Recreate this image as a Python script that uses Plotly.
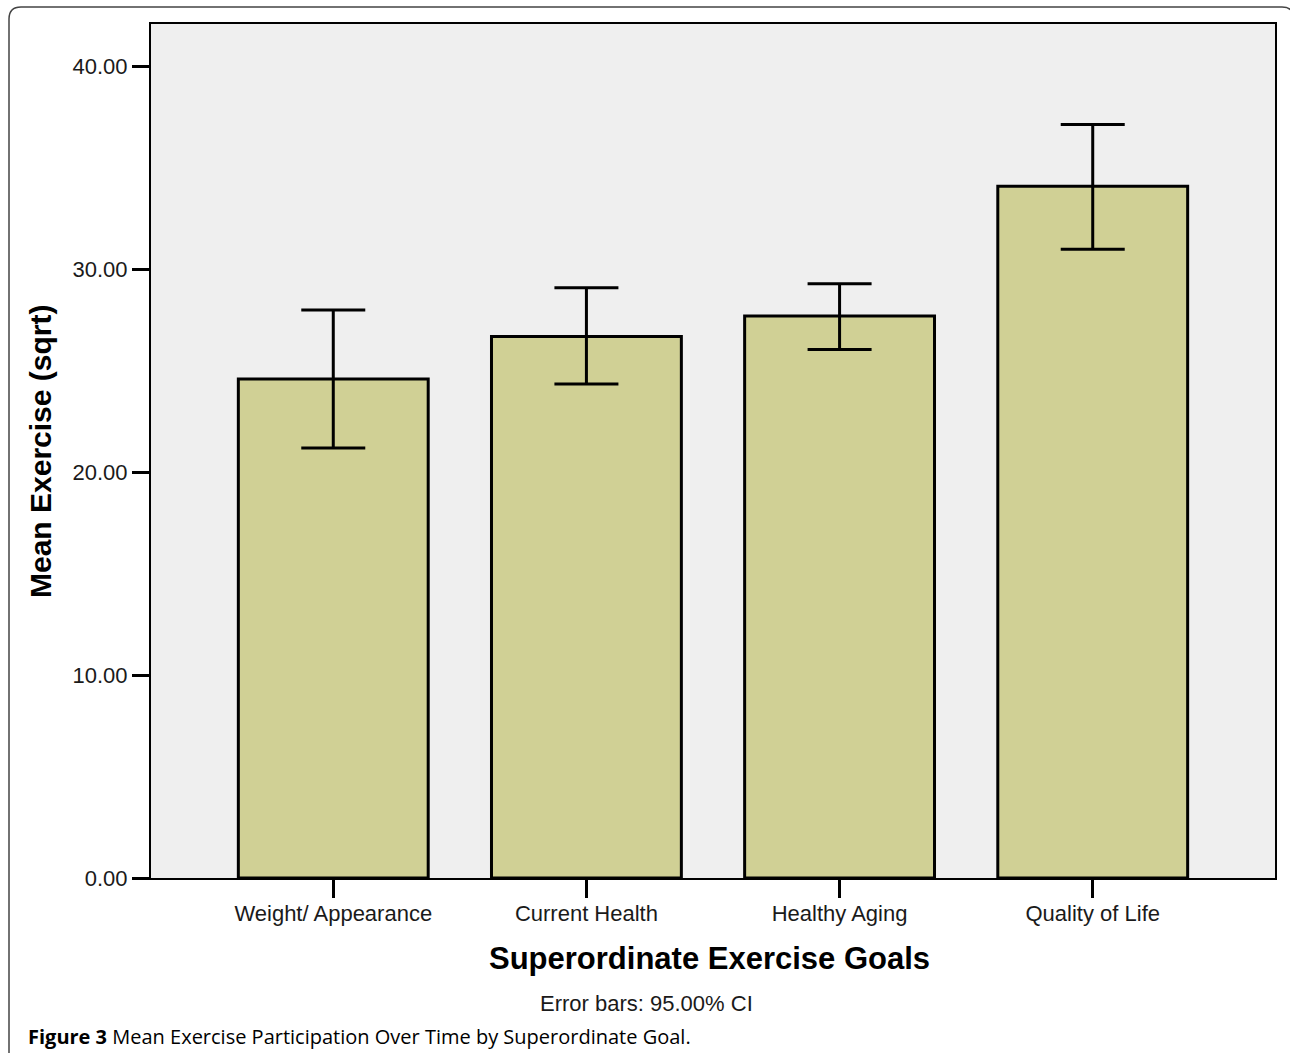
import plotly.graph_objects as go

# Data
categories = ["Weight/ Appearance", "Current Health", "Healthy Aging", "Quality of Life"]
means = [24.6, 26.7, 27.7, 34.1]
ci_upper = [28.0, 29.1, 29.3, 37.15]
ci_lower = [21.2, 24.35, 26.05, 31.0]
y_ticks = [0, 10, 20, 30, 40]
y_tick_labels = ["0.00", "10.00", "20.00", "30.00", "40.00"]

W, H = 1290, 1053
L, R, T, B = 151, 15, 24, 175
pw, ph = W - L - R, H - T - B

def px(x):
    return (x - L) / pw

def py(y):
    return (H - B - y) / ph

err_plus = [u - m for u, m in zip(ci_upper, means)]
err_minus = [m - l for m, l in zip(means, ci_lower)]

fig = go.Figure()
fig.add_trace(go.Bar(
    x=list(range(len(categories))),
    y=means,
    width=0.75,
    marker=dict(color="#d0d095", line=dict(color="black", width=3)),
    error_y=dict(type="data", symmetric=False, array=err_plus, arrayminus=err_minus,
                 color="black", thickness=3, width=32),
    showlegend=False,
))

label_font = dict(family="Liberation Sans, Arial, sans-serif", size=22, color="#1a1a1a")

fig.update_layout(
    width=W, height=H,
    margin=dict(l=L, r=R, t=T, b=B),
    paper_bgcolor="white",
    plot_bgcolor="#efefef",
    xaxis=dict(
        range=[-0.72, 3.72],
        tickmode="array", tickvals=list(range(len(categories))), ticktext=categories,
        ticks="outside", ticklen=18, tickwidth=3, tickcolor="black",
        showgrid=False, zeroline=False,
        showline=True, linecolor="black", linewidth=2, mirror=True,
        tickfont=label_font, ticklabelstandoff=-3,
    ),
    yaxis=dict(
        range=[0, 42.1],
        tickmode="array", tickvals=y_ticks, ticktext=y_tick_labels,
        ticks="outside", ticklen=17, tickwidth=3, tickcolor="black",
        showgrid=False, zeroline=False,
        showline=True, linecolor="black", linewidth=2, mirror=True,
        tickfont=label_font,
    ),
    font=dict(family="Liberation Sans, Arial, sans-serif"),
)

annotations = [
    dict(text="<b>Mean Exercise (sqrt)</b>", x=px(40), y=py(452), textangle=-90,
         font=dict(family="Liberation Sans, Arial, sans-serif", size=30, color="black")),
    dict(text="<b>Superordinate Exercise Goals</b>", x=px(709), y=py(958),
         font=dict(family="Liberation Sans, Arial, sans-serif", size=31, color="black")),
    dict(text="Error bars: 95.00% CI", x=px(646), y=py(1003),
         font=dict(family="Liberation Sans, Arial, sans-serif", size=22, color="#1a1a1a")),
    dict(text="<b>Figure 3</b> Mean Exercise Participation Over Time by Superordinate Goal.",
         x=px(26), y=py(1036), xanchor="left",
         font=dict(family="Open Sans, Noto Sans, sans-serif", size=20, color="black")),
]
for a in annotations:
    a.setdefault("xanchor", "center")
    a.update(xref="paper", yref="paper", yanchor="middle", showarrow=False)
fig.update_layout(annotations=annotations)

# outer rounded frame (right side runs off the page)
x0, x1 = px(9), px(1294)
yt, yb = py(7), py(1070)
rx, ry = 12 / pw, 12 / ph
path = (f"M {x0},{yb} L {x0},{yt-ry} Q {x0},{yt} {x0+rx},{yt} "
        f"L {x1-rx},{yt} Q {x1},{yt} {x1},{yt-ry} L {x1},{yb}")
fig.add_shape(type="path", path=path, xref="paper", yref="paper",
              line=dict(color="#444", width=1.5))

fig.write_html("out.html", config={"displayModeBar": False},
               post_script="document.body.style.margin='0';document.body.style.overflow='hidden';")
